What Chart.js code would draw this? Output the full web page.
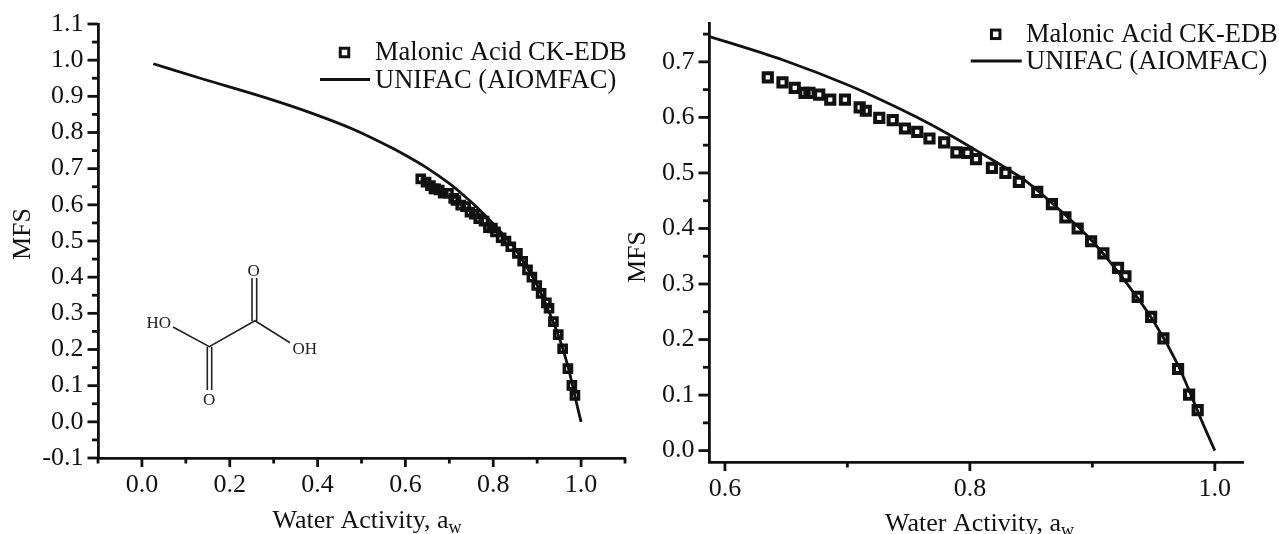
<!DOCTYPE html>
<html><head><meta charset="utf-8">
<script src="https://cdn.jsdelivr.net/npm/chart.js@4"></script>
<style>
html,body{margin:0;padding:0;background:#fff;width:1279px;height:534px;overflow:hidden}
canvas{position:absolute;top:0}
svg{position:absolute;left:0;top:0}
</style></head><body>
<canvas id="left" width="660" height="534" style="left:0;width:660px;height:534px"></canvas>
<canvas id="right" width="659" height="534" style="left:620px;width:659px;height:534px"></canvas>
<svg width="400" height="534" viewBox="0 0 400 534" font-family="Liberation Serif" font-size="17" fill="#222">
  <g stroke="#222" stroke-width="1.6" fill="none">
    <path d="M173 327 L209.3 346.7 L255 320.7 L290 342.7"/>
    <path d="M207.3 346.7 V390 M211.7 346.7 V390"/>
    <path d="M252 321 V278 M256.7 321 V278"/>
  </g>
  <text x="146.5" y="328">HO</text><text x="292.5" y="353.5">OH</text>
  <text x="203" y="405">O</text><text x="247.5" y="276">O</text>
</svg>
<script>
const FONT = "'Liberation Serif','Times New Roman',serif";
const INK = '#111';

const seriesName = 'Malonic Acid CK-EDB';
const modelName = 'UNIFAC (AIOMFAC)';
const xTitle = 'Water Activity, a';
const xTitleSub = 'w';
const yTitle = 'MFS';

const measuredAw = [0.635,0.647,0.657,0.665,0.669,0.677,0.686,0.698,0.710,0.715,0.726,0.737,0.747,0.757,0.767,0.779,0.789,0.798,0.805,0.818,0.829,0.840,0.855,0.867,0.878,0.888,0.899,0.909,0.921,0.927,0.937,0.948,0.958,0.970,0.979,0.986];
const measuredMfs = [0.672,0.663,0.653,0.644,0.644,0.641,0.632,0.632,0.618,0.612,0.599,0.595,0.580,0.574,0.562,0.555,0.537,0.536,0.525,0.509,0.500,0.484,0.466,0.444,0.420,0.400,0.377,0.355,0.329,0.314,0.277,0.241,0.202,0.147,0.101,0.073];
const modelAw = [0.026,0.133,0.2845,0.383,0.481,0.572,0.6,0.648,0.702,0.729,0.756,0.784,0.811,0.83,0.846,0.87,0.9,0.925,0.95,0.97,0.98,0.99,1.0];
const modelMfs = [0.990,0.950,0.895,0.855,0.809,0.7555,0.737,0.703,0.657,0.630,0.601,0.568,0.533,0.508,0.485,0.440,0.377,0.310,0.233,0.154,0.103,0.050,0.0];

const leftXMajor = [0,0.2,0.4,0.6,0.8,1.0];
const leftXLabels = ['0.0','0.2','0.4','0.6','0.8','1.0'];
const leftXMinor = [-0.1,0.1,0.3,0.5,0.7,0.9,1.1];
const leftYMajor = [-0.1,0,0.1,0.2,0.3,0.4,0.5,0.6,0.7,0.8,0.9,1.0,1.1];
const leftYLabels = ['-0.1','0.0','0.1','0.2','0.3','0.4','0.5','0.6','0.7','0.8','0.9','1.0','1.1'];
const leftYMinor = [-0.05,0.05,0.15,0.25,0.35,0.45,0.55,0.65,0.75,0.85,0.95,1.05];
const rightXMajor = [0.6,0.8,1.0];
const rightXLabels = ['0.6','0.8','1.0'];
const rightXMinor = [0.7,0.9];
const rightYMajor = [0,0.1,0.2,0.3,0.4,0.5,0.6,0.7];
const rightYLabels = ['0.0','0.1','0.2','0.3','0.4','0.5','0.6','0.7'];
const rightYMinor = [0.05,0.15,0.25,0.35,0.45,0.55,0.65,0.75];

const pairs = (xs, ys) => xs.map((x, i) => ({x, y: ys[i]}));

const overlay = {
  id: 'overlay',
  afterDraw(chart) {
    const o = chart.options.plugins.overlay, c = chart.ctx;
    c.save();
    c.strokeStyle = INK; c.fillStyle = INK; c.lineCap = 'butt';
    const xs = chart.scales.x, ys = chart.scales.y;
    c.lineWidth = 2.8;
    const mark = (v, len, isX) => {
      c.beginPath();
      if (isX) { const p = xs.getPixelForValue(v); c.moveTo(p, xs.top); c.lineTo(p, xs.top + len); }
      else { const p = ys.getPixelForValue(v); c.moveTo(ys.right, p); c.lineTo(ys.right - len, p); }
      c.stroke();
    };
    o.xMajor.forEach(v => mark(v, 9, true));
    o.xMinor.forEach(v => mark(v, 5.5, true));
    o.yMajor.forEach(v => mark(v, 10.5, false));
    o.yMinor.forEach(v => mark(v, 6, false));
    c.textBaseline = 'alphabetic'; c.textAlign = 'left';
    c.font = o.titleSize + 'px ' + FONT;
    c.fillText(xTitle, o.xt[0], o.xt[1]);
    const w = c.measureText(xTitle).width;
    c.font = Math.round(o.titleSize * 0.68) + 'px ' + FONT;
    c.fillText(xTitleSub, o.xt[0] + w, o.xt[1] + 5);
    c.save();
    c.translate(o.yt[0], o.yt[1]); c.rotate(-Math.PI / 2);
    c.textAlign = 'center'; c.font = o.titleSize + 'px ' + FONT;
    c.fillText(yTitle, 0, 0);
    c.restore();
    c.font = o.legendSize + 'px ' + FONT;
    const L = o.legend, s = L.marker;
    c.lineWidth = 3;
    c.strokeRect(L.mx - s / 2, L.my - s / 2, s, s);
    c.fillText(chart.data.datasets[0].label, L.tx, L.b1);
    c.lineWidth = 2.8;
    c.beginPath(); c.moveTo(L.lx0, L.ly); c.lineTo(L.lx1, L.ly); c.stroke();
    c.fillText(chart.data.datasets[1].label, L.tx, L.b2);
    c.restore();
  }
};

function build(id, cfg) {
  const fixTicks = (major, minor) => scale => {
    scale.ticks = major.concat(minor).sort((a, b) => a - b).map(value => ({value}));
  };
  const labelFor = (major, labels) => v => {
    const i = major.findIndex(m => Math.abs(m - v) < 1e-6);
    return i < 0 ? '' : labels[i];
  };
  const tickFont = {family: FONT, size: cfg.tickSize};
  return new Chart(document.getElementById(id), {
    type: 'scatter',
    data: {datasets: [
      {label: seriesName, data: pairs(measuredAw, measuredMfs), pointStyle: 'rect', pointRadius: cfg.radius,
       pointBorderWidth: cfg.pointWidth, pointBorderColor: INK, pointBackgroundColor: 'rgba(0,0,0,0)', showLine: false, order: 1},
      {label: modelName, data: pairs(modelAw, modelMfs), showLine: true, pointRadius: 0, borderColor: INK,
       borderWidth: 2.8, cubicInterpolationMode: 'monotone', order: 2}
    ]},
    options: {
      responsive: false, animation: false,
      events: [],
      layout: {padding: cfg.padding},
      plugins: {legend: {display: false}, tooltip: {enabled: false}, overlay: cfg.overlay},
      scales: {
        x: {type: 'linear', min: cfg.xRange[0], max: cfg.xRange[1],
            afterBuildTicks: fixTicks(cfg.overlay.xMajor, cfg.overlay.xMinor),
            afterFit: s => { s.height = cfg.bottomH; },
            grid: {display: false, drawTicks: true, tickLength: 9},
            border: {display: true, color: INK, width: 2.8},
            ticks: {color: INK, font: tickFont, padding: cfg.xPad, autoSkip: false, maxRotation: 0,
                    callback: labelFor(cfg.overlay.xMajor, cfg.xLabels)}},
        y: {type: 'linear', min: cfg.yRange[0], max: cfg.yRange[1],
            afterBuildTicks: fixTicks(cfg.overlay.yMajor, cfg.overlay.yMinor),
            afterFit: s => { s.width = cfg.leftW; },
            grid: {display: false, drawTicks: true, tickLength: 10.5},
            border: {display: true, color: INK, width: 2.8},
            ticks: {color: INK, font: tickFont, padding: 4, autoSkip: false,
                    callback: labelFor(cfg.overlay.yMajor, cfg.yLabels)}}
      }
    },
    plugins: [overlay]
  });
}

build('left', {
  tickSize: 26, radius: 5, pointWidth: 3.6, xPad: 3,
  padding: {left: 0, top: 24, right: 35, bottom: 0},
  leftW: 98, bottomH: 76,
  xRange: [-0.1, 1.1], yRange: [-0.1, 1.1], xLabels: leftXLabels, yLabels: leftYLabels,
  overlay: {xMajor: leftXMajor, xMinor: leftXMinor, yMajor: leftYMajor, yMinor: leftYMinor,
    titleSize: 26, legendSize: 26.5, xt: [272.5, 528], yt: [29.5, 234],
    legend: {marker: 8.5, mx: 344.5, my: 52.5, tx: 375, b1: 60, lx0: 320, lx1: 370, ly: 79.5, b2: 88}}
});
build('right', {
  tickSize: 26, radius: 5.8, pointWidth: 4, xPad: 3,
  padding: {left: 0, top: 23, right: 36, bottom: 0},
  leftW: 89, bottomH: 72,
  xRange: [0.587, 1.023], yRange: [-0.0205, 0.77], xLabels: rightXLabels, yLabels: rightYLabels,
  overlay: {xMajor: rightXMajor, xMinor: rightXMinor, yMajor: rightYMajor, yMinor: rightYMinor,
    titleSize: 26, legendSize: 26.5, xt: [265, 531], yt: [25, 257],
    legend: {marker: 8.5, mx: 375.7, my: 34.3, tx: 406, b1: 41.7, lx0: 350.7, lx1: 401.7, ly: 61, b2: 69.3}}
});
</script>
</body></html>
